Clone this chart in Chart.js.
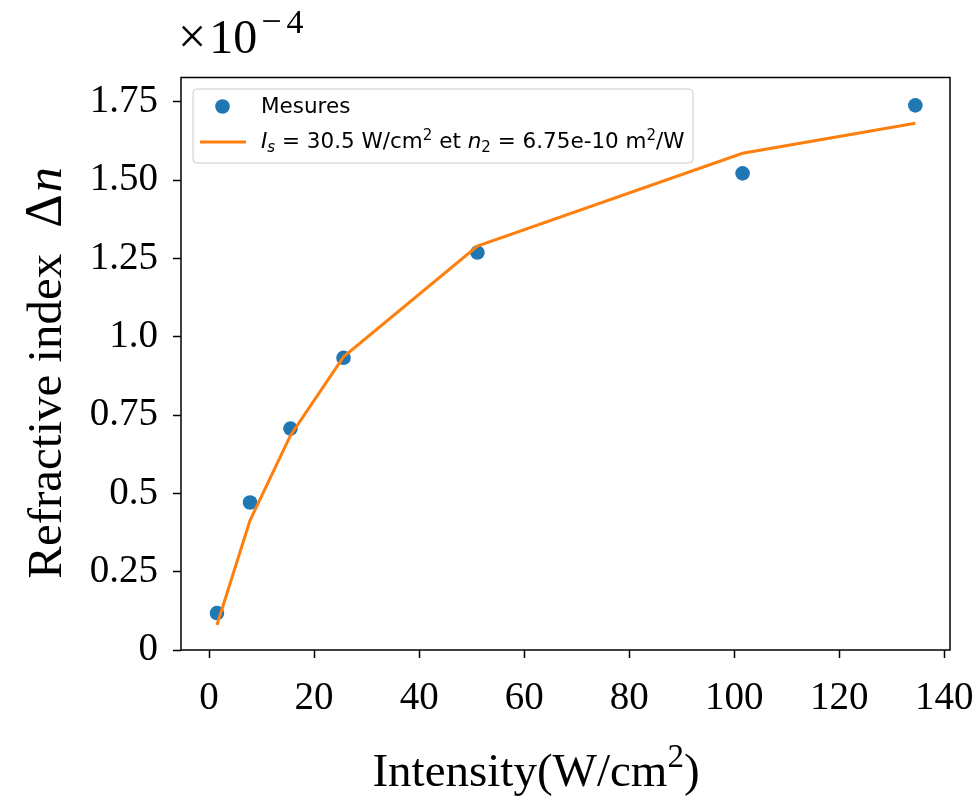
<!DOCTYPE html>
<html>
<head>
<meta charset="utf-8">
<script src="https://cdn.jsdelivr.net/npm/chart.js@4.4.1/dist/chart.umd.min.js"></script>
<style>
  html, body { margin: 0; padding: 0; background: #ffffff; }
  #wrap { width: 977px; height: 800px; position: relative; }
</style>
</head>
<body>
<div id="wrap"><canvas id="c" width="977" height="800"></canvas></div>
<script>
// ---- data ----
const intensity = [1.5, 7.8, 15.5, 25.6, 51.1, 101.6, 134.5];          // W/cm^2
const measured  = [0.118, 0.471, 0.707, 0.933, 1.269, 1.522, 1.739];   // x 1e-4
const fitted    = [0.080, 0.414, 0.685, 0.936, 1.290, 1.586, 1.682];   // x 1e-4
const xTicks = [0, 20, 40, 60, 80, 100, 120, 140];
const xTickLabels = ["0", "20", "40", "60", "80", "100", "120", "140"];
const yTicks = [0, 0.25, 0.5, 0.75, 1.0, 1.25, 1.5, 1.75];
const yTickLabels = ["0", "0.25", "0.5", "0.75", "1.0", "1.25", "1.50", "1.75"];
const seriesNames = ["Mesures", "fit"];

const SERIF = "'Liberation Serif', 'Times New Roman', serif";
const SANS = "'DejaVu Sans', sans-serif";
const BLUE = '#1f77b4';
const ORANGE = '#ff7f0e';

function drawRich(ctx, segs, x, y, align) {
  let total = 0;
  const widths = segs.map(s => { ctx.font = s.f; const w = ctx.measureText(s.t).width + (s.sp || 0); total += w; return w; });
  let cx = align === 'center' ? x - total / 2 : x;
  ctx.textBaseline = 'alphabetic';
  ctx.textAlign = 'left';
  segs.forEach((s, i) => {
    ctx.font = s.f;
    ctx.fillText(s.t, cx, y + (s.dy || 0));
    cx += widths[i];
  });
}

const decor = {
  id: 'decor',
  afterDraw(chart) {
    const ctx = chart.ctx;
    const a = chart.chartArea;
    ctx.save();
    // frame (spines)
    ctx.strokeStyle = '#000';
    ctx.lineWidth = 1.5;
    ctx.strokeRect(a.left, a.top, a.right - a.left, a.bottom - a.top);

    ctx.fillStyle = '#000';
    // offset text  x10^-4
    drawRich(ctx, [
      { t: '\u00d7', f: `50px ${SERIF}`, sp: 3 },
      { t: '10', f: `48px ${SERIF}`, sp: 4 },
      { t: '\u2212', f: `36px ${SERIF}`, dy: -20, sp: 5 },
      { t: '4', f: `34px ${SERIF}`, dy: -20 }
    ], 178, 53, 'left');

    // x axis title
    drawRich(ctx, [
      { t: 'Intensity(W/cm', f: `47px ${SERIF}` },
      { t: '2', f: `33px ${SERIF}`, dy: -19 },
      { t: ')', f: `47px ${SERIF}` }
    ], 536, 786, 'center');

    // y axis title (rotated)
    ctx.save();
    ctx.translate(61, 373);
    ctx.rotate(-Math.PI / 2);
    drawRich(ctx, [
      { t: 'Refractive index', f: `49px ${SERIF}`, sp: 26 },
      { t: '\u0394', f: `52px ${SERIF}`, sp: 2 },
      { t: 'n', f: `italic 50px ${SERIF}` }
    ], 0, 0, 'center');
    ctx.restore();

    // legend box
    const lx = 193, ly = 89, lw = 500, lh = 74, r = 4;
    ctx.beginPath();
    ctx.moveTo(lx + r, ly);
    ctx.arcTo(lx + lw, ly, lx + lw, ly + lh, r);
    ctx.arcTo(lx + lw, ly + lh, lx, ly + lh, r);
    ctx.arcTo(lx, ly + lh, lx, ly, r);
    ctx.arcTo(lx, ly, lx + lw, ly, r);
    ctx.closePath();
    ctx.fillStyle = 'rgba(255,255,255,0.8)';
    ctx.fill();
    ctx.strokeStyle = '#cccccc';
    ctx.lineWidth = 1;
    ctx.stroke();

    // legend entries
    ctx.fillStyle = BLUE;
    ctx.beginPath();
    ctx.arc(222.5, 106.5, 7.3, 0, Math.PI * 2);
    ctx.fill();
    ctx.strokeStyle = ORANGE;
    ctx.lineWidth = 3;
    ctx.beginPath();
    ctx.moveTo(200, 142);
    ctx.lineTo(246, 142);
    ctx.stroke();

    ctx.fillStyle = '#000';
    drawRich(ctx, [{ t: seriesNames[0], f: `21.5px ${SANS}` }], 261, 113, 'left');
    drawRich(ctx, [
      { t: 'I', f: `italic 21.5px ${SANS}` },
      { t: 's', f: `italic 15px ${SANS}`, dy: 4 },
      { t: ' = 30.5 W/cm', f: `21.5px ${SANS}` },
      { t: '2', f: `15px ${SANS}`, dy: -8 },
      { t: ' et ', f: `21.5px ${SANS}` },
      { t: 'n', f: `italic 21.5px ${SANS}` },
      { t: '2', f: `15px ${SANS}`, dy: 4 },
      { t: ' = 6.75e-10 m', f: `21.5px ${SANS}` },
      { t: '2', f: `15px ${SANS}`, dy: -8 },
      { t: '/W', f: `21.5px ${SANS}` }
    ], 261, 148, 'left');
    ctx.restore();
  }
};

new Chart(document.getElementById('c'), {
  type: 'scatter',
  data: {
    datasets: [
      {
        label: seriesNames[1],
        data: intensity.map((x, i) => ({ x: x, y: fitted[i] })),
        showLine: true,
        borderColor: ORANGE,
        borderWidth: 3,
        pointRadius: 0,
        tension: 0,
        fill: false,
        order: 0
      },
      {
        label: seriesNames[0],
        data: intensity.map((x, i) => ({ x: x, y: measured[i] })),
        showLine: false,
        pointRadius: 7.3,
        pointBackgroundColor: BLUE,
        pointBorderWidth: 0,
        order: 1
      }
    ]
  },
  options: {
    responsive: false,
    animation: false,
    devicePixelRatio: 1,
    layout: { padding: { left: 0, top: 77.5, right: 27, bottom: 0 } },
    plugins: { legend: { display: false }, tooltip: { enabled: false } },
    scales: {
      x: {
        type: 'linear',
        min: -5.35,
        max: 141.1,
        afterBuildTicks: s => { s.ticks = xTicks.map(v => ({ value: v })); },
        afterFit: s => { s.height = 150; s.paddingLeft = 0; s.paddingRight = 0; },
        border: { display: false },
        grid: { display: true, drawOnChartArea: false, drawTicks: true, tickLength: 8, tickWidth: 1.5, tickColor: '#000' },
        ticks: {
          color: '#000',
          font: { family: SERIF, size: 39 },
          padding: 17,
          maxRotation: 0,
          autoSkip: false,
          callback: (v) => { const i = xTicks.indexOf(v); return i >= 0 ? xTickLabels[i] : ''; }
        }
      },
      y: {
        type: 'linear',
        min: 0,
        max: 1.828,
        afterBuildTicks: s => { s.ticks = yTicks.map(v => ({ value: v })); },
        afterFit: s => { s.width = 181; s.paddingTop = 0; s.paddingBottom = 0; },
        border: { display: false },
        grid: { display: true, drawOnChartArea: false, drawTicks: true, tickLength: 8, tickWidth: 1.5, tickColor: '#000' },
        ticks: {
          color: '#000',
          font: { family: SERIF, size: 39 },
          padding: 15,
          autoSkip: false,
          callback: (v) => { const i = yTicks.findIndex(t => Math.abs(t - v) < 1e-9); return i >= 0 ? yTickLabels[i] : ''; }
        }
      }
    }
  },
  plugins: [decor]
});
</script>
</body>
</html>
